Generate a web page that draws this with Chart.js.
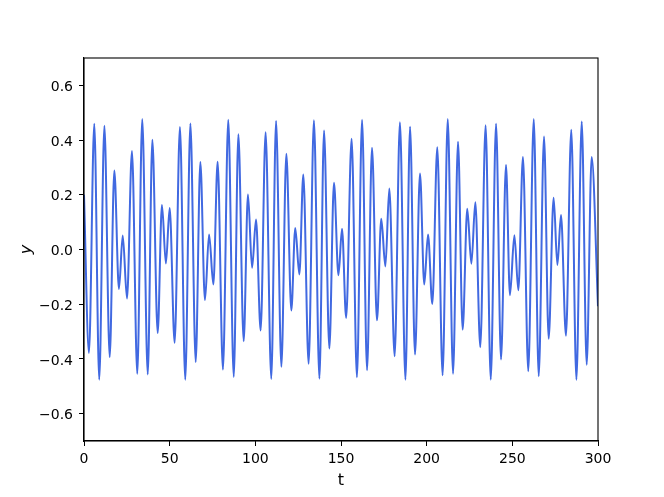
<!DOCTYPE html>
<html>
<head>
<meta charset="utf-8">
<script src="https://cdn.jsdelivr.net/npm/chart.js@4"></script>
<style>
  body { margin: 0; background: #fff; }
</style>
</head>
<body>
<canvas id="grafico" width="664" height="497"></canvas>
<script>
// turning points of the signal
const tPts = [0, 2.9, 6.0, 8.9, 11.9, 15.0, 17.7, 20.4, 22.6, 25.1, 28.0, 31.1, 34.0, 37.2, 39.9, 43.0, 45.5, 47.8,
  50.0, 52.9, 56.0, 59.1, 62.1, 65.2, 67.9, 70.6, 73.0, 75.5, 78.0, 81.1, 84.2, 87.4, 90.1, 93.2, 95.7, 98.1,
  100.4, 103.1, 106.0, 109.3, 112.1, 115.2, 118.1, 121.0, 123.3, 125.7, 128.0, 131.1, 134.2, 137.4, 140.1, 143.2, 145.9, 148.5,
  150.6, 153.0, 156.2, 159.3, 162.3, 165.2, 168.1, 171.0, 173.5, 175.9, 178.2, 181.3, 184.4, 187.6, 190.3, 193.2, 196.1, 198.6,
  200.8, 203.3, 206.2, 209.3, 212.3, 215.4, 218.3, 221.0, 223.7, 226.1, 228.4, 231.3, 234.4, 237.4, 240.5, 243.4, 246.3, 248.6,
  251.2, 253.5, 256.2, 259.3, 262.5, 265.4, 268.5, 271.2, 274.1, 276.3, 278.4, 281.3, 284.4, 287.4, 290.5, 293.4, 296.3, 300];
const yPts = [0.20, -0.378, 0.46, -0.476, 0.452, -0.393, 0.289, -0.144, 0.051, -0.179, 0.36, -0.454, 0.477, -0.457, 0.401, -0.305, 0.163, -0.051,
  0.152, -0.341, 0.448, -0.476, 0.461, -0.411, 0.320, -0.185, 0.055, -0.128, 0.321, -0.439, 0.474, -0.466, 0.421, -0.335, 0.201, -0.067,
  0.110, -0.296, 0.429, -0.473, 0.470, -0.429, 0.350, -0.223, 0.079, -0.091, 0.274, -0.418, 0.472, -0.472, 0.435, -0.362, 0.244, -0.094,
  0.076, -0.250, 0.405, -0.467, 0.474, -0.441, 0.372, -0.259, 0.112, -0.062, 0.223, -0.390, 0.465, -0.476, 0.449, -0.384, 0.278, -0.128,
  0.055, -0.199, 0.374, -0.460, 0.477, -0.454, 0.394, -0.293, 0.149, -0.052, 0.173, -0.357, 0.454, -0.476, 0.460, -0.402, 0.309, -0.167,
  0.052, -0.149, 0.338, -0.445, 0.477, -0.463, 0.413, -0.326, 0.189, -0.057, 0.126, -0.315, 0.438, -0.476, 0.468, -0.421, 0.338, -0.207];

const xTicks = [0, 50, 100, 150, 200, 250, 300];
const yTicks = [-0.6, -0.4, -0.2, 0.0, 0.2, 0.4, 0.6];

const fonte = 'DejaVu Sans';

// top and right spines
const moldura = {
    id: 'moldura',
    afterDraw(chart) {
        const { ctx, chartArea: a } = chart;
        ctx.save();
        ctx.strokeStyle = '#000';
        ctx.lineWidth = 1.1;
        ctx.strokeRect(a.left, a.top, a.right - a.left, a.bottom - a.top);
        ctx.restore();
    }
};

const ctx = document.getElementById('grafico').getContext('2d');

const grafico = new Chart(ctx, {
    type: 'line',
    data: {
        datasets: [{
            label: 'y',
            data: tPts.map((t, i) => ({ x: t, y: yPts[i] })),
            borderColor: '#4169e1',
            borderWidth: 2,
            pointRadius: 0,
            fill: false,
            cubicInterpolationMode: 'monotone'
        }]
    },
    options: {
        responsive: false,
        animation: false,
        layout: {
            padding: { top: 58, right: 66, left: 0, bottom: 0 }
        },
        plugins: {
            legend: { display: false },
            tooltip: { enabled: false }
        },
        scales: {
            x: {
                type: 'linear',
                min: 0,
                max: 300,
                afterBuildTicks: (s) => { s.ticks = xTicks.map(v => ({ value: v })); },
                afterFit: (s) => { s.height = 56; },
                grid: { drawOnChartArea: false, drawTicks: true, tickLength: 5, color: '#000', tickWidth: 1 },
                border: { display: true, color: '#000', width: 1.1 },
                ticks: {
                    color: '#000',
                    padding: 5,
                    maxRotation: 0,
                    font: { family: fonte, size: 14 },
                    callback: (v) => String(v)
                },
                title: {
                    display: true,
                    text: 't',
                    color: '#000',
                    padding: 7,
                    font: { family: fonte, size: 16 }
                }
            },
            y: {
                type: 'linear',
                min: -0.7,
                max: 0.7,
                afterBuildTicks: (s) => { s.ticks = yTicks.map(v => ({ value: v })); },
                afterFit: (s) => { s.width = 84; },
                grid: { drawOnChartArea: false, drawTicks: true, tickLength: 5, color: '#000', tickWidth: 1 },
                border: { display: true, color: '#000', width: 1.1 },
                ticks: {
                    color: '#000',
                    padding: 6,
                    labelOffset: 2,
                    font: { family: fonte, size: 14 },
                    callback: (v) => v.toFixed(1).replace('-', '\u2212')
                },
                title: {
                    display: true,
                    text: 'y',
                    color: '#000',
                    padding: 17,
                    font: { family: fonte, size: 16, style: 'italic' }
                }
            }
        }
    },
    plugins: [moldura]
});
</script>
</body>
</html>
